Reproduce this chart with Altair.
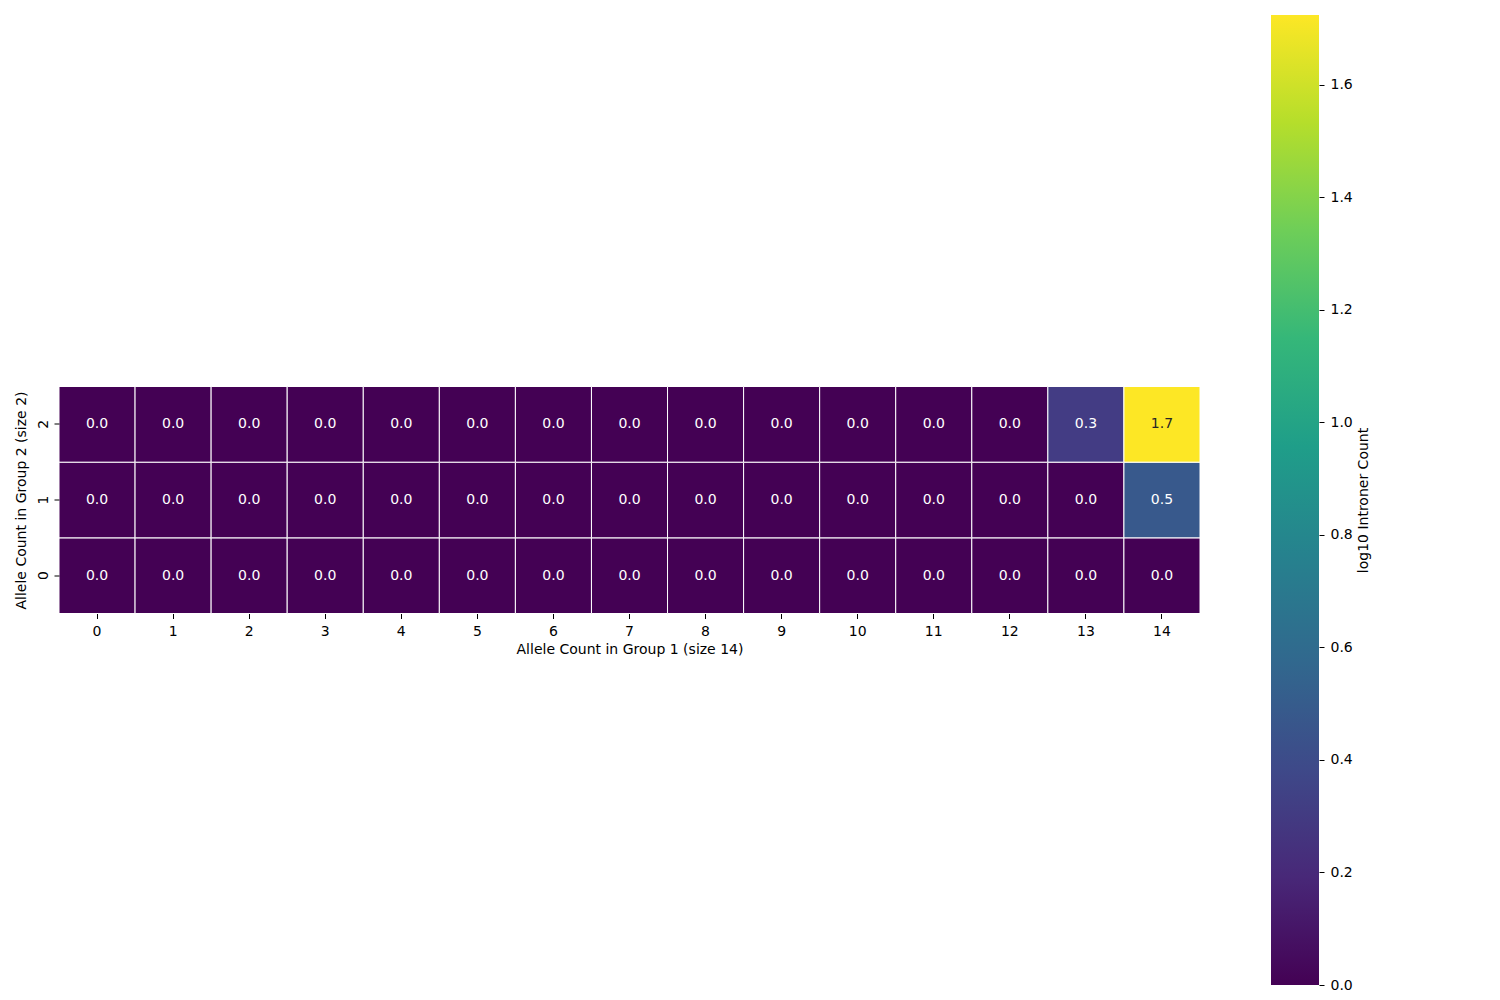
import altair as alt
import pandas as pd

# Data
group1_counts = [0, 1, 2, 3, 4, 5, 6, 7, 8, 9, 10, 11, 12, 13, 14]
group2_counts = [0, 1, 2]
# log10 introner count per cell, one list per Group 2 allele count
row_g2_0 = [0.0, 0.0, 0.0, 0.0, 0.0, 0.0, 0.0, 0.0, 0.0, 0.0, 0.0, 0.0, 0.0, 0.0, 0.0]
row_g2_1 = [0.0, 0.0, 0.0, 0.0, 0.0, 0.0, 0.0, 0.0, 0.0, 0.0, 0.0, 0.0, 0.0, 0.0, 0.477]
row_g2_2 = [0.0, 0.0, 0.0, 0.0, 0.0, 0.0, 0.0, 0.0, 0.0, 0.0, 0.0, 0.0, 0.0, 0.301, 1.724]
colorbar_ticks = [0.0, 0.2, 0.4, 0.6, 0.8, 1.0, 1.2, 1.4, 1.6]

rows = {0: row_g2_0, 1: row_g2_1, 2: row_g2_2}
records = []
for g2 in group2_counts:
    for g1, v in zip(group1_counts, rows[g2]):
        records.append({"g1": g1, "g2": g2, "value": v})
df = pd.DataFrame(records)
vmax = float(df["value"].max())

viridis = ["#440154", "#482878", "#3e4989", "#31688e", "#26828e",
           "#1f9e89", "#35b779", "#6ece58", "#b5de2b", "#fde725"]

FONT = "DejaVu Sans"

base = alt.Chart(df).encode(
    x=alt.X("g1:O", sort=group1_counts,
            scale=alt.Scale(paddingInner=0, paddingOuter=0),
            axis=alt.Axis(title="Allele Count in Group 1 (size 14)", labelAngle=0,
                          domain=False, tickSize=5, labelPadding=6, titlePadding=4)),
    y=alt.Y("g2:O", sort="descending",
            scale=alt.Scale(paddingInner=0, paddingOuter=0),
            axis=alt.Axis(title="Allele Count in Group 2 (size 2)", labelAngle=270,
                          domain=False, tickSize=5, labelPadding=4, titlePadding=8)),
)

rect = base.mark_rect(stroke="white", strokeWidth=1).encode(
    color=alt.Color("value:Q", scale=alt.Scale(scheme="viridis", domain=[0, vmax]), legend=None)
)
text = base.mark_text(fontSize=14, font=FONT).encode(
    text=alt.Text("value:Q", format=".1f"),
    color=alt.condition(alt.datum.value > 1, alt.value("#262626"), alt.value("white")),
)
heat = alt.layer(rect, text).properties(width=1141, height=227)

cbar = alt.Chart(df).transform_aggregate(
    lo="min(value)", hi="max(value)"
).mark_rect(
    fill=alt.Gradient(gradient="linear",
                      stops=[alt.GradientStop(offset=i / 9, color=c) for i, c in enumerate(viridis)],
                      x1=0, x2=0, y1=1, y2=0)
).encode(
    y=alt.Y("lo:Q", scale=alt.Scale(domain=[0, vmax], nice=False, zero=False),
            axis=alt.Axis(orient="right", values=colorbar_ticks, format=".1f",
                          title="log10 Introner Count", titleAngle=270, titleBaseline="top",
                          domain=False, tickSize=5, labelPadding=6, titlePadding=4, grid=False)),
    y2="hi:Q",
    x=alt.value(0),
    x2=alt.value(48),
).properties(width=48, height=970)

chart = alt.hconcat(heat, cbar, spacing=71, bounds="flush", center=True).properties(
    padding={"left": 6, "top": 7, "right": 5, "bottom": 5}
).configure_view(stroke=None).configure_axis(
    labelFont=FONT, titleFont=FONT, labelFontSize=14, titleFontSize=14,
    labelColor="black", titleColor="black", tickColor="black", titleFontWeight="normal",
    grid=False,
)

chart.save("out.html", embed_options={"renderer": "svg", "actions": False})
